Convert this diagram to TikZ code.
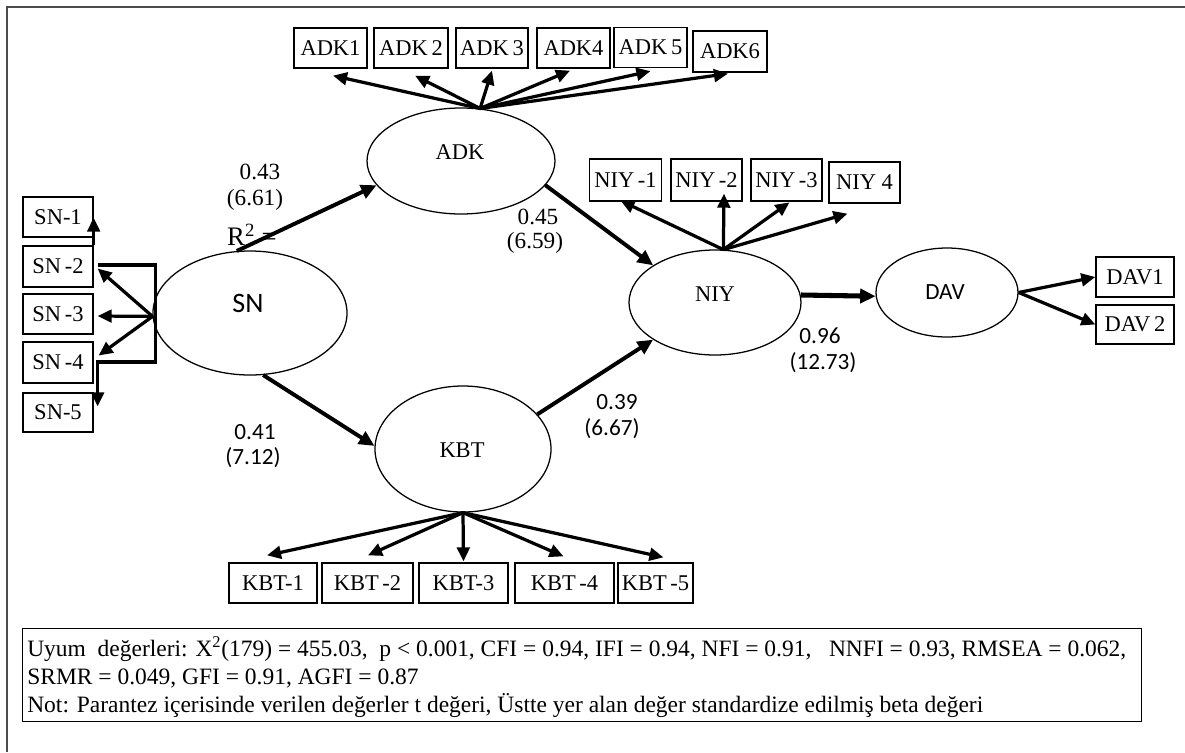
\documentclass[tikz,border=0pt]{standalone}
\usepackage{fontspec}
\setmainfont{Liberation Serif}
\newfontfamily\numfont{Carlito}
\usetikzlibrary{shapes.geometric,arrows.meta,calc}
\def\pxu{0.025cm}
\begin{document}
\begin{tikzpicture}[x=0.025cm,y=-0.025cm,
  bx/.style={draw, line width=0.9pt, minimum height=40*\pxu, inner sep=0pt, font=\fontsize{16}{18}\selectfont},
  lv/.style={draw, ellipse, line width=0.9pt, inner sep=0pt},
  lvt/.style={font=\fontsize{16}{18}\selectfont, inner sep=0pt},
  ar/.style={line width=2.8pt, -{Triangle[length=11pt,width=10pt]}},
  arb/.style={line width=3.6pt, -{Triangle[length=11pt,width=10pt]}},
  ai/.style={line width=2.3pt, -{Triangle[length=10pt,width=9pt]}},
  nt/.style={font=\fontsize{16.5}{18}\selectfont, inner sep=0pt},
  nc/.style={font=\numfont\fontsize{16.5}{18}\selectfont, inner sep=0pt},
  bt/.style={font=\fontsize{16.7}{18}\selectfont, inner sep=0pt, anchor=west}
]
\useasboundingbox (0,0) rectangle (1185,752);
\draw[gray!60!black, line width=1.6pt] (7,752) -- (7,7) -- (1185,7);

% latent variables
\node[lv, minimum width=194*\pxu, minimum height=124*\pxu] (sn) at (250,313) {};
\node[lv, minimum width=188*\pxu, minimum height=106*\pxu] (adk) at (461,161) {};
\node[lv, minimum width=172*\pxu, minimum height=105*\pxu] (niy) at (715,302.5) {};
\node[lv, minimum width=142*\pxu, minimum height=89*\pxu] (dav) at (947,292.5) {};
\node[lv, minimum width=176*\pxu, minimum height=126*\pxu] (kbt) at (463,449) {};
\node[font=\numfont\fontsize{20}{22}\selectfont, inner sep=0pt] (snt) at (248,303) {SN};
\node[lvt] (adkt) at (460,152) {ADK};
\node[lvt] (niyt) at (715,294) {NIY};
\node[font=\numfont\fontsize{16.5}{18}\selectfont, inner sep=0pt] (davt) at (945,292) {DAV};
\node[lvt] (kbtt) at (462,450) {KBT};

% ADK indicators
\node[bx, minimum width=73*\pxu] (adk1) at (330.5,48) {ADK1};
\node[bx, minimum width=74*\pxu] (adk2) at (411,48) {ADK\,2};
\node[bx, minimum width=72*\pxu] (adk3) at (492,48) {ADK\,3};
\node[bx, minimum width=73*\pxu] (adk4) at (573.5,48) {ADK4};
\node[bx, minimum width=73*\pxu] (adk5) at (650.5,47.5) {ADK\,5};
\node[bx, minimum width=74*\pxu, minimum height=41*\pxu] (adk6) at (730,51.5) {ADK6};

% NIY indicators
\node[bx, minimum width=72*\pxu, minimum height=42*\pxu] (niy1) at (625.5,180) {NIY\,-1};
\node[bx, minimum width=71*\pxu, minimum height=42*\pxu] (niy2) at (706.5,180) {NIY\,-2};
\node[bx, minimum width=71*\pxu, minimum height=42*\pxu] (niy3) at (786.5,180) {NIY\,-3};
\node[bx, minimum width=71*\pxu, minimum height=41*\pxu] (niy4) at (864.5,182.5) {NIY 4};

% DAV indicators
\node[bx, minimum width=78*\pxu] (dav1) at (1135,277) {DAV1};
\node[bx, minimum width=78*\pxu, minimum height=39*\pxu] (dav2) at (1135,324.5) {DAV\,2};

% KBT indicators
\node[bx, minimum width=88*\pxu] (kbt1) at (273,583) {KBT-1};
\node[bx, minimum width=91*\pxu] (kbt2) at (367.5,583) {KBT\,-2};
\node[bx, minimum width=89*\pxu] (kbt3) at (463.5,583) {KBT-3};
\node[bx, minimum width=99*\pxu] (kbt4) at (564.5,583) {KBT\,-4};
\node[bx, minimum width=75*\pxu] (kbt5) at (655.5,583) {KBT\,-5};

% SN indicators
\node[bx, minimum width=70*\pxu] (sn1) at (58,217) {SN-1};
\node[bx, minimum width=70*\pxu, minimum height=41*\pxu] (sn2) at (58,266.5) {SN\,-2};
\node[bx, minimum width=70*\pxu] (sn3) at (58,314) {SN\,-3};
\node[bx, minimum width=70*\pxu, minimum height=41*\pxu] (sn4) at (58,362.5) {SN\,-4};
\node[bx, minimum width=70*\pxu, minimum height=39*\pxu] (sn5) at (58,412.5) {SN-5};

% structural paths
\draw[ar] (sn.102) -- (adk.196);
\draw[ar] (sn.-78) -- (kbt.178);
\draw[ar] (adk.-16) -- (niy.149);
\draw[ar] (kbt.25) -- (niy.211);
\draw[arb] (niy.5) -- (dav.183);

% ADK loadings
\draw[ai] (adk.70) -- ($(adk1.south)+(2.5,7)$);
\draw[ai] (adk.70) -- ($(adk2.south)+(4,7)$);
\draw[ai] (adk.70) -- ($(adk3.south)+(0,2)$);
\draw[ai] (adk.70) -- ($(adk4.south)+(-3.5,2)$);
\draw[ai] (adk.70) -- ($(adk5.south)+(0,3)$);
\draw[ai] (adk.70) -- ($(adk6.south)+(-2,1)$);

% NIY loadings
\draw[ai] (niy.81) -- ($(niy1.south)+(-5,-1)$);
\draw[ai] (niy.81) -- ($(niy2.south)+(17.5,-8)$);
\draw[ai] (niy.81) -- ($(niy3.south)+(3,0.7)$);
\draw[ai] (niy.81) -- ($(niy4.south)+(-17,10)$);

% DAV loadings
\draw[ai] (dav.east) -- (dav1.west);
\draw[ai] (dav.east) -- (dav2.west);

% KBT loadings
\draw[ai] (kbt.south) -- ($(kbt1.north)+(-6,-7)$);
\draw[ai] (kbt.south) -- ($(kbt2.north)+(0.5,-7)$);
\draw[ai] (kbt.south) -- ($(kbt3.north)+(0,-1)$);
\draw[ai] (kbt.south) -- ($(kbt4.north)+(-1,-6)$);
\draw[ai] (kbt.south) -- ($(kbt5.north)+(8,-5)$);

% SN loadings
\draw[ai] (sn.182) -- ($(sn2.east)+(4,2)$);
\draw[ai] (sn.182) -- ($(sn3.east)+(4,2)$);
\draw[ai] (sn.182) -- ($(sn4.east)+(5,-7)$);
\draw[ai] (sn2.north east) -- ($(sn1.south east)+(0,-20)$);
\coordinate (b1) at ($(sn2.east)+(4,-1.5)$);
\draw[ai] (b1) -- ++(58,0) -- ++(0,97) -- ++(-58,0) -- ($(sn5.north east)+(4,14)$);

% coefficients
\node[nt] (c1a) at (260,172) {0.43};
\node[nt] (c1b) at (255,200) {(6.61)};
\node[font=\fontsize{19}{21}\selectfont, inner sep=0pt] (r2) at (252,235) {R\textsuperscript{2} =};
\node[nt] (c2a) at (538,217) {0.45};
\node[nt] (c2b) at (535,243) {(6.59)};
\node[nc] (c3a) at (255,432) {0.41};
\node[nc] (c3b) at (253,458) {(7.12)};
\node[nc] (c4a) at (617,402) {0.39};
\node[nc] (c4b) at (612,429) {(6.67)};
\node[nc] (c5a) at (820,336) {0.96};
\node[nc] (c5b) at (823,363) {(12.73)};

% fit box
\node[draw, line width=0.9pt, minimum width=1119*\pxu, minimum height=93*\pxu, anchor=north west, inner sep=0pt] (fitbox) at (22,628) {};
\node[bt] (l1) at (27,649) {Uyum\ \ değerleri: X\textsuperscript{2}(179) = 455.03,\ \ p < 0.001, CFI = 0.94, IFI = 0.94, NFI = 0.91,\ \ \ NNFI = 0.93, RMSEA = 0.062,};
\node[bt] (l2) at (27,678) {SRMR = 0.049, GFI = 0.91, AGFI = 0.87};
\node[bt] (l3) at (27,706) {Not: Parantez içerisinde verilen değerler t değeri, Üstte yer alan değer standardize edilmiş beta değeri};
\end{tikzpicture}
\end{document}
